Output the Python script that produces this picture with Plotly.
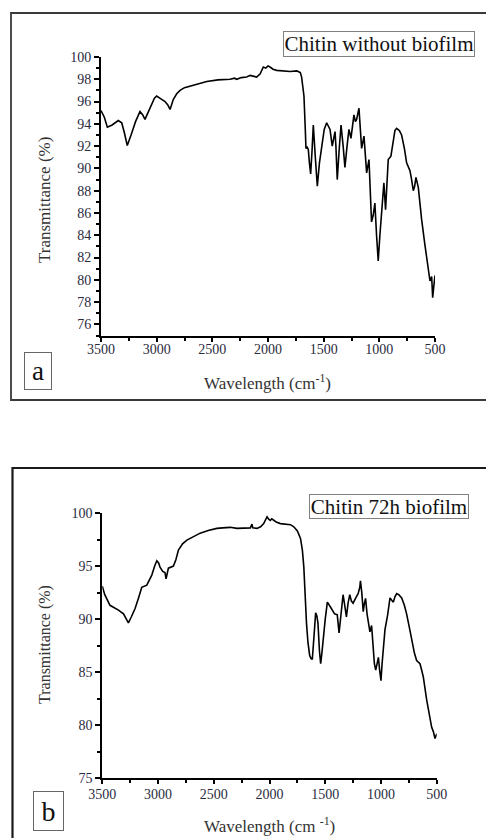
import plotly.graph_objects as go

# ---------------- data ----------------
wn_a = [3500, 3470, 3443, 3400, 3345, 3314, 3290, 3264, 3230, 3190, 3150, 3125, 3105, 3060, 3020,
        3000, 2975, 2955, 2925, 2900, 2880, 2865, 2850, 2820, 2790, 2750, 2700, 2620, 2550, 2450,
        2341, 2300, 2281, 2240, 2192, 2160, 2132, 2102, 2070, 2042, 2020, 2000, 1982, 1955, 1922,
        1850, 1802, 1740, 1710, 1698, 1690, 1677, 1665, 1659, 1648, 1638, 1628, 1617, 1605, 1593,
        1575, 1557, 1538, 1518, 1495, 1473, 1455, 1443, 1423, 1410, 1398, 1390, 1378, 1362, 1344,
        1325, 1309, 1290, 1273, 1255, 1240, 1228, 1215, 1204, 1183, 1170, 1159, 1138, 1125, 1114,
        1093, 1085, 1078, 1070, 1055, 1040, 1025, 1010, 995, 980, 959, 944, 930, 920, 896,
        875, 860, 845, 820, 800, 775, 755, 725, 710, 695, 683, 671, 650, 635, 620,
        590, 560, 545, 530, 521, 510, 500]
t_a = [95.2, 94.6, 93.7, 93.9, 94.3, 94.1, 93.2, 92.05, 93.0, 94.2, 95.1, 94.8, 94.4, 95.5, 96.3,
       96.5, 96.3, 96.2, 96.0, 95.7, 95.3, 95.8, 96.2, 96.7, 97.0, 97.25, 97.4, 97.65, 97.8, 97.95,
       98.0, 98.1, 98.0, 98.15, 98.2, 98.35, 98.3, 98.2, 98.5, 99.1, 99.0, 99.2, 99.1, 98.9, 98.8,
       98.75, 98.7, 98.75, 98.6, 98.2, 97.5, 96.5, 93.5, 91.8, 91.9, 91.7, 90.5, 89.5, 91.5, 93.9,
       91.0, 88.4, 90.5, 92.0, 93.5, 94.1, 93.8, 93.5, 92.0, 92.6, 93.3, 92.0, 89.0, 91.5, 93.9,
       92.0, 90.1, 92.0, 93.5, 92.7, 93.8, 94.8, 94.2, 94.4, 95.4, 93.8, 91.8, 92.9, 91.0, 89.6,
       90.8, 89.0, 86.5, 85.2, 85.8, 86.9, 84.0, 81.7, 84.0, 86.3, 88.7, 86.3, 89.0, 90.8, 91.1,
       92.7, 93.4, 93.6, 93.4, 93.0, 91.8, 90.5, 89.8, 89.0, 88.0, 88.4, 89.2, 88.3, 86.8, 85.4,
       83.1, 81.0, 79.9, 80.3, 78.4, 79.5, 80.4]

wn_b = [3500, 3478, 3431, 3355, 3310, 3266, 3240, 3206, 3175, 3146, 3101, 3056, 3030, 3011, 2995,
        2982, 2958, 2938, 2928, 2907, 2862, 2840, 2817, 2780, 2741, 2680, 2622, 2550, 2472, 2420,
        2352, 2292, 2230, 2172, 2157, 2150, 2112, 2080, 2052, 2035, 2022, 2005, 1992, 1980, 1968,
        1940, 1902, 1850, 1812, 1782, 1750, 1722, 1705, 1692, 1680, 1668, 1655, 1640, 1628, 1616,
        1600, 1586, 1575, 1565, 1552, 1541, 1530, 1520, 1500, 1481, 1460, 1445, 1416, 1392, 1376,
        1358, 1340, 1325, 1310, 1295, 1280, 1265, 1250, 1226, 1205, 1190, 1184, 1172, 1159, 1150,
        1138, 1125, 1114, 1099, 1084, 1070, 1059, 1047, 1035, 1023, 1012, 1000, 990, 979, 964,
        940, 930, 919, 905, 889, 875, 859, 840, 814, 790, 770, 745, 725, 700, 680,
        665, 650, 635, 620, 590, 560, 545, 530, 515, 505, 500]
t_b = [93.1, 92.3, 91.3, 90.85, 90.5, 89.65, 90.2, 91.0, 92.0, 93.0, 93.2, 94.15, 95.0, 95.5, 95.3,
       94.9, 94.5, 94.4, 93.8, 94.8, 95.0, 95.6, 96.5, 97.1, 97.45, 97.8, 98.1, 98.35, 98.55, 98.6,
       98.65, 98.55, 98.6, 98.6, 98.95, 98.6, 98.55, 98.7, 99.0, 99.3, 99.65, 99.4, 99.3, 99.45, 99.35,
       99.15, 99.0, 98.95, 98.9, 98.7, 98.3, 97.6, 96.5, 94.9, 92.0, 89.6, 87.8, 86.6, 86.3, 86.2,
       88.5, 90.6, 90.3, 89.6, 87.0, 85.8, 86.8, 88.0, 90.0, 91.6, 91.3, 91.0, 90.5, 90.4, 88.7,
       90.8, 92.3, 91.3, 90.2, 91.5, 92.3, 91.7, 91.5, 92.0, 92.4, 93.0, 93.6, 92.5, 90.7, 91.4,
       91.95, 90.5, 89.6, 88.8, 89.4, 87.5, 85.8, 85.2, 85.7, 86.4, 85.2, 84.2, 85.8, 87.4, 89.0,
       90.4, 91.3, 92.0, 91.8, 91.6, 92.1, 92.4, 92.3, 92.0, 91.3, 90.5, 89.2, 88.0, 86.8, 86.1,
       85.9, 85.8, 85.2, 84.55, 82.4, 80.5, 79.8, 79.4, 78.75, 79.0, 79.2]

x_ticks = [3500, 3000, 2500, 2000, 1500, 1000, 500]
y_ticks_a = [76, 78, 80, 82, 84, 86, 88, 90, 92, 94, 96, 98, 100]
y_ticks_b = [75, 80, 85, 90, 95, 100]

title_a = "Chitin without biofilm"
title_b = "Chitin 72h biofilm"

# ---------------- layout helpers ----------------
W, H = 494, 838
OFF = 8  # page body margin offsets the figure by 8 px
def px(x):
    return (x - OFF) / W
def py(y):
    return 1 - (y - OFF) / H

SERIF = "Liberation Serif, Times New Roman, serif"
TICKCOL = "#2b2b40"

fig = go.Figure()
fig.add_trace(go.Scatter(x=wn_a, y=t_a, mode="lines", line=dict(color="black", width=1.6),
                         xaxis="x", yaxis="y", showlegend=False, hoverinfo="skip"))
fig.add_trace(go.Scatter(x=wn_b, y=t_b, mode="lines", line=dict(color="black", width=1.6),
                         xaxis="x2", yaxis="y2", showlegend=False, hoverinfo="skip"))

def xaxis(domain, anchor, standoff):
    return dict(domain=domain, anchor=anchor, range=[3500, 500], tickmode="array",
                tickvals=x_ticks, ticktext=[str(v) for v in x_ticks],
                showline=True, linecolor="black", linewidth=2, mirror=False,
                ticks="outside", ticklen=4, tickwidth=1.5, tickcolor="black",
                ticklabelstandoff=standoff,
                showgrid=False, zeroline=False, automargin=False,
                tickfont=dict(family=SERIF, size=14, color=TICKCOL),
                minor=dict(ticks="outside", ticklen=3, tickwidth=1.5, tickcolor="black",
                           dtick=250, showgrid=False))

def yaxis(domain, anchor, ticks, minor_dt):
    return dict(domain=domain, anchor=anchor, range=[75, 100], tickmode="array",
                tickvals=ticks, ticktext=[str(v) for v in ticks],
                showline=True, linecolor="black", linewidth=2,
                ticks="outside", ticklen=5, tickwidth=1.5, tickcolor="black",
                showgrid=False, zeroline=False, automargin=False,
                tickfont=dict(family=SERIF, size=14, color=TICKCOL),
                minor=dict(ticks="outside", ticklen=3, tickwidth=1.5, tickcolor="black",
                           dtick=minor_dt, tick0=75, showgrid=False))

fig.update_layout(
    width=W, height=H, autosize=False,
    margin=dict(l=0, r=0, t=0, b=0, pad=0, autoexpand=False),
    paper_bgcolor="white", plot_bgcolor="white",
    xaxis=xaxis([px(101), px(435)], "y", -4),
    yaxis=yaxis([py(335.6), py(57)], "x", y_ticks_a, 1),
    xaxis2=xaxis([px(102.3), px(436.7)], "y2", -2),
    yaxis2=yaxis([py(778.3), py(513)], "x2", y_ticks_b, 2.5),
)

shapes = [
    dict(type="rect", xref="paper", yref="paper", x0=px(11), x1=px(492.5), y0=py(400), y1=py(13),
         line=dict(color="#3a3a3a", width=1.8), fillcolor="rgba(0,0,0,0)", layer="below"),
    dict(type="rect", xref="paper", yref="paper", x0=px(12.5), x1=px(492.5), y0=py(850), y1=py(468),
         line=dict(color="#1a1a1a", width=2.2), fillcolor="rgba(0,0,0,0)", layer="below"),
]
fig.update_layout(shapes=shapes)

def box_ann(text, cx, cy, w, h, size, border="#808080"):
    return dict(text=text, xref="paper", yref="paper", x=px(cx), y=py(cy), xanchor="center",
                yanchor="middle", showarrow=False, width=w, height=h, borderpad=0,
                bordercolor=border, borderwidth=1, bgcolor="white",
                font=dict(family=SERIF, size=size, color="#111"))

anns = [
    box_ann(title_a, 379, 44, 190, 24, 21),
    box_ann(title_b, 389, 506.5, 158, 23, 21),
    box_ann("a", 38, 371, 26, 36, 27, "#666"),
    box_ann("b", 48.5, 811, 29, 38, 28, "#666"),
    dict(text="Transmittance (%)", xref="paper", yref="paper", x=px(45), y=py(200),
         xanchor="center", yanchor="middle", textangle=-90, showarrow=False,
         font=dict(family=SERIF, size=17, color="#333")),
    dict(text="Transmittance (%)", xref="paper", yref="paper", x=px(45), y=py(645),
         xanchor="center", yanchor="middle", textangle=-90, showarrow=False,
         font=dict(family=SERIF, size=16, color="#333")),
    dict(text="Wavelength (cm<sup>-1</sup>)", xref="paper", yref="paper", x=px(267), y=py(382),
         xanchor="center", yanchor="middle", showarrow=False,
         font=dict(family=SERIF, size=17, color="#333")),
    dict(text="Wavelength (cm <sup>-1</sup>)", xref="paper", yref="paper", x=px(269), y=py(825),
         xanchor="center", yanchor="middle", showarrow=False,
         font=dict(family=SERIF, size=17, color="#333")),
]
fig.update_layout(annotations=anns)

fig.write_html("out.html")
